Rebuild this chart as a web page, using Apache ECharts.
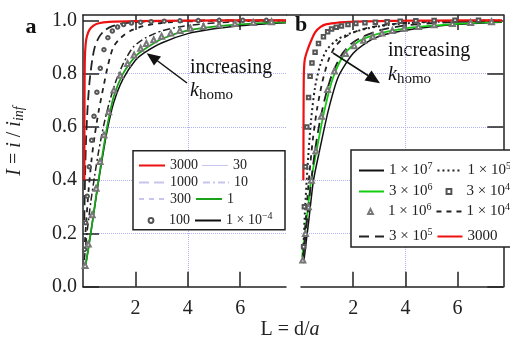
<!DOCTYPE html>
<html><head><meta charset="utf-8">
<script src="https://cdn.jsdelivr.net/npm/echarts@6/dist/echarts.min.js"></script>
<style>html,body{margin:0;padding:0;background:#fff}#c{width:510px;height:339px}</style>
</head><body><div id="c"></div>
<script>
// ---------- tick values / labels ----------
const xTickValues = [2, 4, 6];
const yTickValues = [0, 0.2, 0.4, 0.6, 0.8, 1.0];
const yTickLabels = ['0.0', '0.2', '0.4', '0.6', '0.8', '1.0'];

// ---------- panel a : [L, I] ----------
const a3000 = [[0.05,0.40],[0.055,0.6],[0.06,0.75],[0.07,0.85],[0.1,0.91],[0.15,0.94],[0.25,0.965],[0.4,0.98],[0.6,0.989],[1.0,0.994],[2.0,0.997],[4.0,0.999],[7.75,1.0]];
const a1000 = [[0.05,0.25],[0.08,0.42],[0.12,0.56],[0.18,0.68],[0.25,0.77],[0.35,0.85],[0.45,0.9],[0.6,0.935],[0.8,0.96],[1.1,0.977],[1.5,0.988],[2.2,0.995],[3.5,0.998],[5.5,1.0],[7.75,1.0]];
const a100 = [[0.06,0.14],[0.1,0.24],[0.16,0.34],[0.24,0.45],[0.33,0.55],[0.42,0.64],[0.53,0.73],[0.66,0.82],[0.8,0.89],[0.95,0.935],[1.12,0.96],[1.32,0.975],[1.55,0.984],[1.85,0.99],[2.2,0.993],[2.6,0.995],[3.1,0.997],[3.7,0.998],[4.4,0.999],[5.2,1.0],[6.1,1.0],[7.0,1.0]];
const a300 = [[0.05,0.13],[0.12,0.24],[0.22,0.37],[0.33,0.48],[0.45,0.57],[0.6,0.66],[0.78,0.75],[0.95,0.83],[1.16,0.9],[1.45,0.935],[1.8,0.96],[2.3,0.978],[3.0,0.99],[4.0,0.996],[5.5,0.999],[7.75,1.0]];
const a10 = [[0.05,0.1],[0.15,0.2],[0.3,0.32],[0.45,0.42],[0.6,0.51],[0.8,0.61],[1.0,0.69],[1.25,0.77],[1.55,0.84],[1.92,0.9],[2.4,0.935],[3.0,0.96],[3.7,0.976],[4.5,0.986],[5.5,0.993],[6.5,0.997],[7.75,0.999]];
const a30 = [[0.08,0.08],[0.2,0.16],[0.35,0.27],[0.5,0.37],[0.65,0.47],[0.8,0.57],[0.98,0.657],[1.18,0.738],[1.42,0.794],[1.7,0.838],[1.95,0.87],[2.2,0.895],[2.42,0.913],[2.7,0.927],[3.0,0.94],[3.35,0.952],[3.7,0.962],[4.1,0.97],[4.6,0.977],[5.2,0.983],[5.8,0.988],[6.5,0.992],[7.2,0.995]];
const a1 = [[0.08,0.07],[0.2,0.14],[0.37,0.25],[0.5,0.34],[0.6,0.405],[0.75,0.5],[0.92,0.6],[1.17,0.713],[1.53,0.8],[2.0,0.865],[2.32,0.89],[3.0,0.93],[4.0,0.962],[5.0,0.976],[6.0,0.985],[7.0,0.99],[7.75,0.993]];
const a1em4 = [[0.08,0.07],[0.2,0.14],[0.37,0.25],[0.5,0.335],[0.6,0.4],[0.75,0.49],[0.92,0.585],[1.17,0.69],[1.53,0.78],[2.0,0.85],[2.32,0.877],[3.0,0.915],[4.0,0.95],[5.0,0.968],[6.0,0.98],[7.0,0.987],[7.75,0.991]];

// ---------- panel b : [L, I] ----------
const b3000 = [[0.09,0.40],[0.095,0.55],[0.1,0.7],[0.11,0.8],[0.14,0.85],[0.22,0.88],[0.35,0.915],[0.54,0.955],[0.75,0.975],[0.95,0.985],[1.3,0.99],[1.7,0.993],[2.5,0.996],[3.5,0.998],[5.0,0.999],[7.7,1.0]];
const b3e4 = [[0.1,0.15],[0.13,0.3],[0.17,0.45],[0.22,0.6],[0.29,0.71],[0.35,0.79],[0.42,0.84],[0.54,0.88],[0.67,0.913],[0.86,0.938],[1.02,0.957],[1.17,0.967],[1.35,0.974],[1.55,0.979],[1.8,0.984],[2.1,0.988],[2.45,0.991],[2.85,0.993],[3.3,0.995],[3.8,0.997],[4.4,0.998],[5.1,0.999],[5.9,1.0],[6.8,1.0]];
const b1e5 = [[0.08,0.12],[0.15,0.28],[0.25,0.45],[0.38,0.62],[0.54,0.75],[0.73,0.83],[0.99,0.89],[1.43,0.93],[1.94,0.953],[2.57,0.97],[3.3,0.982],[4.2,0.99],[5.3,0.995],[6.5,0.998],[7.7,1.0]];
const b1e4 = [[0.08,0.1],[0.18,0.25],[0.3,0.4],[0.45,0.55],[0.62,0.67],[0.82,0.77],[1.05,0.85],[1.3,0.9],[1.65,0.935],[2.1,0.958],[2.7,0.975],[3.5,0.986],[4.5,0.993],[5.8,0.997],[7.7,0.999]];
const b3e5 = [[0.08,0.1],[0.2,0.22],[0.35,0.36],[0.52,0.5],[0.72,0.62],[0.95,0.72],[1.2,0.8],[1.55,0.87],[1.9,0.91],[2.4,0.94],[3.0,0.962],[3.8,0.978],[4.8,0.988],[6.0,0.994],[7.7,0.998]];
const b1e6 = [[0.07,0.1],[0.17,0.2],[0.28,0.3],[0.4,0.4],[0.57,0.51],[0.78,0.64],[1.02,0.74],[1.28,0.81],[1.71,0.875],[2.04,0.905],[2.4,0.925],[2.75,0.94],[3.1,0.952],[3.5,0.962],[3.95,0.97],[4.5,0.977],[5.1,0.983],[5.8,0.988],[6.5,0.992],[7.3,0.995]];
const b3e6 = [[0.04,0.11],[0.2,0.24],[0.39,0.4],[0.6,0.513],[0.9,0.663],[1.24,0.788],[1.68,0.876],[2.19,0.92],[2.7,0.942],[3.3,0.958],[4.0,0.97],[5.0,0.98],[6.0,0.987],[7.0,0.992],[7.7,0.995]];
const b1e7 = [[0.1,0.088],[0.3,0.25],[0.48,0.4],[0.73,0.52],[1.05,0.663],[1.43,0.788],[2.0,0.876],[2.57,0.92],[3.0,0.94],[3.5,0.953],[4.2,0.966],[5.0,0.976],[6.0,0.985],[7.0,0.99],[7.7,0.993]];

// ---------- legend labels ----------
const legendLabels = {
  'a:3000':'3000','a:30':'30','a:1000':'1000','a:10':'10','a:300':'300','a:1':'1','a:100':'100','a:1e-4':'1 × 10{sup|−4}',
  'b:1e7':'1 × 10{sup|7}','b:1e5':'1 × 10{sup|5}','b:3e6':'3 × 10{sup|6}','b:3e4':'3 × 10{sup|4}',
  'b:1e6':'1 × 10{sup|6}','b:1e4':'1 × 10{sup|4}','b:3e5':'3 × 10{sup|5}','b:3000':'3000'
};

const FONT = "'Liberation Serif','Times New Roman',serif";
const AX = '#222';
const GRIDC = '#b0b0f4';
const FAINT = '#c6c6ee';

function lineSeries(name, data, xi, color, width, type) {
  return { name, type:'line', xAxisIndex:xi, yAxisIndex:xi===0?0:1, data, symbol:'none', smooth:0.25,
    lineStyle:{ color, width, type: type || 'solid' }, itemStyle:{ color }, z:3 };
}
function markSeries(name, data, xi, symbol, size, color) {
  return { name, type:'line', xAxisIndex:xi, yAxisIndex:xi===0?0:1, data, symbol, symbolSize:size, showSymbol:true, showAllSymbol:true,
    lineStyle:{ opacity:0, width:0 }, itemStyle:{ color, borderColor:color, borderWidth:0.9 }, z:3 };
}

function xBottom(gi) {
  return { type:'value', gridIndex:gi, min:0, max:7.75, interval:2, position:'bottom',
    axisLine:{ show:true, onZero:false, lineStyle:{ color:AX, width:1.5 } },
    axisTick:{ show:true, inside:true, length:15, customValues:xTickValues, lineStyle:{ color:AX, width:1.5 } },
    axisLabel:{ show:true, customValues:xTickValues, margin:12, fontSize:20, fontFamily:FONT, color:AX },
    splitLine:{ show:true, showMinLine:false, showMaxLine:false, lineStyle:{ color:GRIDC, type:'dotted', width:1 } } };
}
function xTop(gi) {
  return { type:'value', gridIndex:gi, min:0, max:7.75, interval:2, position:'top',
    axisLine:{ show:true, onZero:false, lineStyle:{ color:AX, width:1.5 } },
    axisTick:{ show:true, inside:true, length:15, customValues:xTickValues, lineStyle:{ color:AX, width:1.5 } },
    axisLabel:{ show:false }, splitLine:{ show:false } };
}
function yAx(gi, pos, labels) {
  return { type:'value', gridIndex:gi, min:0, max:1.02, interval:0.2, position:pos,
    axisLine:{ show:true, onZero:false, lineStyle:{ color:AX, width:1.5 } },
    axisTick:{ show:true, inside:true, length:16, customValues:yTickValues, lineStyle:{ color:AX, width:1.5 } },
    axisLabel:{ show:labels, customValues:yTickValues, margin:6, fontSize:20, fontFamily:FONT, color:AX,
      formatter:(v)=>{ const i = yTickValues.findIndex(t=>Math.abs(t-v)<1e-6); return i>=0?yTickLabels[i]:''; } },
    splitLine:{ show:true, showMinLine:false, showMaxLine:false, lineStyle:{ color:GRIDC, type:'dotted', width:1 } } };
}

const legRich = { sup:{ fontSize:10, fontFamily:FONT, color:AX, padding:[0,0,9,0] } };
// a legend item for a line series: hide the symbol drawn in the middle of the line
function LI(name, extra) { return Object.assign({ name, itemStyle:{ opacity:0 } }, extra || {}); }
function legendRow(items, left, top, txtW, itemW, fs) {
  return { show:true, orient:'horizontal', left, top, width:400, padding:0, itemGap:4, itemWidth:itemW, itemHeight:6,
    selectedMode:false, z:6, data:items,
    formatter:(n)=>legendLabels[n],
    textStyle:{ fontFamily:FONT, fontSize:fs, color:AX, width:txtW, rich:legRich } };
}

const thinLineIcon = 'path://M0,0H40V1.6H0Z';

const option = {
  animation:false,
  backgroundColor:'#fff',
  grid:[
    { left:83, top:15, width:203, height:271.7 },
    { left:301, top:15, width:202.3, height:271.7 }
  ],
  xAxis:[ xBottom(0), xBottom(1), xTop(0), xTop(1) ],
  yAxis:[ yAx(0,'left',true), yAx(1,'right',false) ],
  legend:[
    legendRow([LI('a:3000'), { name:'a:30', icon:thinLineIcon, itemStyle:{ color:FAINT, borderColor:FAINT, borderWidth:0 } }], 138, 158.5, 26, 26, 14),
    legendRow([LI('a:1000', { lineStyle:{ color:FAINT } }), LI('a:10', { lineStyle:{ color:FAINT } })], 138, 175.5, 26, 26, 14),
    legendRow([LI('a:300', { lineStyle:{ color:FAINT } }), LI('a:1')], 138, 192, 26, 26, 14),
    legendRow(['a:100', LI('a:1e-4')], 138, 211, 26, 26, 14),
    legendRow([LI('b:1e7'), LI('b:1e5')], 358, 161, 46, 25, 15),
    legendRow([LI('b:3e6'), 'b:3e4'], 358, 182, 46, 25, 15),
    legendRow(['b:1e6', LI('b:1e4')], 358, 202, 46, 25, 15),
    legendRow([LI('b:3e5'), LI('b:3000')], 358, 227, 46, 25, 15)
  ],
  series:[
    lineSeries('a:1e-4', a1em4, 0, '#111', 1.5),
    lineSeries('a:1', a1, 0, '#1aa31a', 1.8),
    markSeries('a:30', a30, 0, 'emptyTriangle', 5, '#777'),
    lineSeries('a:10', a10, 0, '#222', 1.5, [7,3,2,3]),
    lineSeries('a:300', a300, 0, '#222', 1.8, [5,5]),
    markSeries('a:100', a100, 0, 'emptyCircle', 3.5, '#555'),
    lineSeries('a:1000', a1000, 0, '#222', 1.8, [10,5]),
    lineSeries('a:3000', a3000, 0, '#ee1111', 2.2),

    lineSeries('b:1e7', b1e7, 1, '#111', 1.5),
    lineSeries('b:3e6', b3e6, 1, '#11cc11', 1.8),
    markSeries('b:1e6', b1e6, 1, 'emptyTriangle', 5, '#777'),
    lineSeries('b:3e5', b3e5, 1, '#222', 1.8, [10,6]),
    lineSeries('b:1e4', b1e4, 1, '#222', 1.8, [5,5]),
    lineSeries('b:1e5', b1e5, 1, '#222', 2, [2,3]),
    markSeries('b:3e4', b3e4, 1, 'emptyRect', 3.5, '#555'),
    lineSeries('b:3000', b3000, 1, '#ee1111', 2.2)
  ],
  graphic:[
    { type:'rect', z:4, shape:{ x:133, y:150.7, width:152, height:79 }, style:{ fill:'#fff', stroke:AX, lineWidth:1.5 } },
    { type:'rect', z:4, shape:{ x:351, y:150, width:180, height:97 }, style:{ fill:'#fff', stroke:AX, lineWidth:1.5 } },
    { type:'line', z:4, shape:{ x1:286, y1:15, x2:301, y2:15 }, style:{ stroke:AX, lineWidth:1.5 } },
    { type:'text', x:31, y:27, style:{ text:'a', font:"bold 22px 'Liberation Serif'", fill:'#111', align:'center', verticalAlign:'middle' } },
    { type:'text', x:301, y:25, style:{ text:'b', font:"bold 22px 'Liberation Serif'", fill:'#111', align:'center', verticalAlign:'middle' } },
    { type:'text', x:190, y:68, style:{ text:'increasing', font:"20px 'Liberation Serif'", fill:'#111', align:'left', verticalAlign:'middle' } },
    { type:'text', x:190, y:91, style:{ text:'{k|k}{s|homo}', fill:'#111', align:'left', verticalAlign:'middle',
      rich:{ k:{ font:"italic 20px 'Liberation Serif'", fill:'#111' }, s:{ font:"15px 'Liberation Serif'", fill:'#111', padding:[9,0,0,0] } } } },
    { type:'text', x:388, y:51, style:{ text:'increasing', font:"20px 'Liberation Serif'", fill:'#111', align:'left', verticalAlign:'middle' } },
    { type:'text', x:388, y:75, style:{ text:'{k|k}{s|homo}', fill:'#111', align:'left', verticalAlign:'middle',
      rich:{ k:{ font:"italic 20px 'Liberation Serif'", fill:'#111' }, s:{ font:"15px 'Liberation Serif'", fill:'#111', padding:[9,0,0,0] } } } },
    // arrow a
    { type:'line', z:5, shape:{ x1:187, y1:83, x2:157, y2:60.5 }, style:{ stroke:'#111', lineWidth:1.5 } },
    { type:'polygon', z:5, shape:{ points:[[146.7,53.3],[161,56.5],[154,65.5]] }, style:{ fill:'#111' } },
    // arrow b
    { type:'line', z:5, shape:{ x1:333, y1:53, x2:368, y2:75.5 }, style:{ stroke:'#111', lineWidth:1.5 } },
    { type:'polygon', z:5, shape:{ points:[[380,83.3],[364.5,80.5],[371.5,70.5]] }, style:{ fill:'#111' } },
    // axis names
    { type:'text', x:290, y:330, style:{ text:'L = d/{i|a}', font:"20px 'Liberation Serif'", fill:'#222', align:'center', verticalAlign:'middle',
      rich:{ i:{ font:"italic 20px 'Liberation Serif'", fill:'#222' } } } },
    { type:'text', x:15, y:141, rotation:Math.PI/2, style:{ text:'{i|I} = {i|i} / {i|i}{s|inf}', font:"20px 'Liberation Serif'", fill:'#222', align:'center', verticalAlign:'middle',
      rich:{ i:{ font:"italic 20px 'Liberation Serif'", fill:'#222' }, s:{ font:"italic 14px 'Liberation Serif'", fill:'#222', padding:[8,0,0,0] } } } }
  ]
};

const chart = echarts.init(document.getElementById('c'), null, { renderer:'canvas' });
chart.setOption(option);
</script></body></html>
